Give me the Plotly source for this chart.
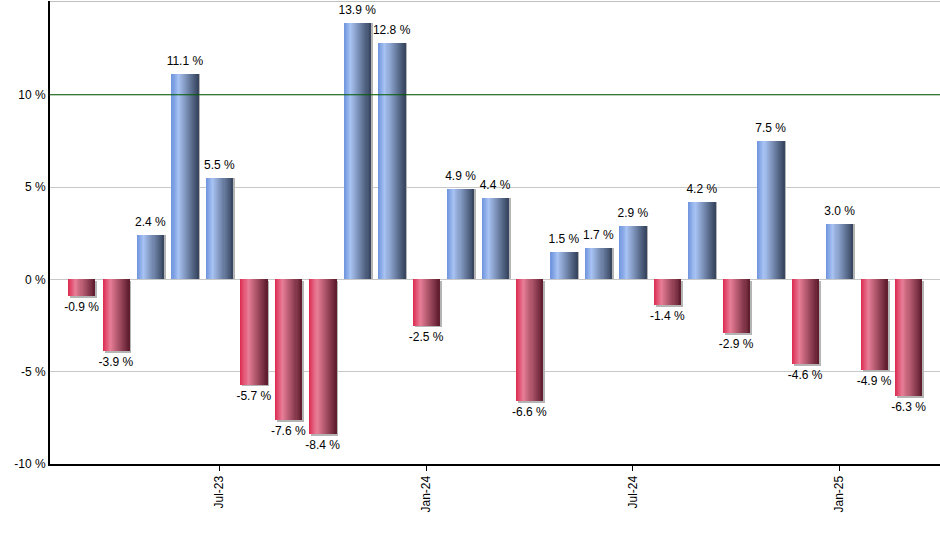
import plotly.graph_objects as go

months = ["Mar-23", "Apr-23", "May-23", "Jun-23", "Jul-23", "Aug-23", "Sep-23",
          "Oct-23", "Nov-23", "Dec-23", "Jan-24", "Feb-24", "Mar-24", "Apr-24",
          "May-24", "Jun-24", "Jul-24", "Aug-24", "Sep-24", "Oct-24", "Nov-24",
          "Dec-24", "Jan-25", "Feb-25", "Mar-25"]
returns = [-0.9, -3.9, 2.4, 11.1, 5.5, -5.7, -7.6, -8.4, 13.9, 12.8, -2.5, 4.9,
           4.4, -6.6, 1.5, 1.7, 2.9, -1.4, 4.2, -2.9, 7.5, -4.6, 3.0, -4.9, -6.3]
tick_months = ["Jul-23", "Jan-24", "Jul-24", "Jan-25"]

# gradient stops (position across bar, colour) for the horizontal shading
blue_stops = [(0.0, (0x6e, 0x93, 0xdd)), (0.25, (0xa8, 0xc3, 0xf3)),
              (1.0, (0x36, 0x44, 0x5e))]
red_stops = [(0.0, (0xdc, 0x2a, 0x50)), (0.28, (0xe8, 0x7e, 0x97)),
             (1.0, (0x5c, 0x1b, 0x2c))]


def shade(stops, t):
    for (p0, c0), (p1, c1) in zip(stops, stops[1:]):
        if p0 <= t <= p1:
            f = (t - p0) / (p1 - p0)
            return "rgb(%d,%d,%d)" % tuple(round(a + (b - a) * f) for a, b in zip(c0, c1))
    return "rgb(%d,%d,%d)" % stops[-1][1]


idx = list(range(len(months)))
bar_w = 0.78
n = 26
slice_w = bar_w / n

fig = go.Figure()

# soft shadow behind each bar
fig.add_trace(go.Bar(
    x=idx, y=returns, width=bar_w, offset=-bar_w / 2 + 0.06,
    base=[-0.1 if v < 0 else 0 for v in returns],
    marker=dict(color="#b4b4b4", line_width=0), hoverinfo="skip",
))

for i in range(n):
    t = (i + 0.5) / n
    fig.add_trace(go.Bar(
        x=idx, y=returns,
        width=bar_w - i * slice_w,
        offset=-bar_w / 2 + i * slice_w,
        marker=dict(color=[shade(blue_stops, t) if v >= 0 else shade(red_stops, t)
                           for v in returns],
                    line_width=0),
        hoverinfo="skip",
    ))

# value labels (invisible marker pushes the text a little off the bar end)
fig.add_trace(go.Scatter(
    x=idx, y=returns, mode="markers+text",
    marker=dict(size=8, color="rgba(0,0,0,0)"),
    text=[f"{v:.1f} %" for v in returns],
    textposition=["top center" if v >= 0 else "bottom center" for v in returns],
    textfont=dict(family="Liberation Sans, Arial, sans-serif", size=12, color="#000"),
    hoverinfo="skip", cliponaxis=False,
))

fig.add_shape(type="line", xref="paper", x0=0, x1=1, y0=10, y1=10,
              line=dict(color="#005a00", width=1))
fig.add_shape(type="line", xref="paper", x0=0, x1=1, y0=15.08, y1=15.08,
              line=dict(color="#c0c0c0", width=2))

fig.update_layout(
    width=940, height=550,
    margin=dict(l=50, r=0, t=1, b=86, autoexpand=False),
    barmode="overlay", bargap=0,
    showlegend=False,
    plot_bgcolor="white", paper_bgcolor="white",
    font=dict(family="Liberation Sans, Arial, sans-serif", size=12, color="#000"),
    xaxis=dict(
        range=[-0.914, len(months) - 1 + 0.914],
        tickvals=[months.index(m) for m in tick_months],
        ticktext=tick_months,
        tickangle=-90,
        ticks="outside", ticklen=5, tickcolor="#000",
        showline=True, linecolor="#000", linewidth=2,
        showgrid=False, zeroline=False, automargin=False,
    ),
    yaxis=dict(
        range=[-10, 15.08],
        tickvals=[-10, -5, 0, 5, 10],
        ticktext=["-10 %", "-5 %", "0 %", "5 %", "10 %"],
        showline=True, linecolor="#000", linewidth=2,
        showgrid=True, gridcolor="#c8c8c8", gridwidth=1,
        zeroline=False, ticks="", automargin=False,
    ),
)

fig.write_html("out.html", config={"displayModeBar": False},
               post_script="document.body.style.margin='0';")
